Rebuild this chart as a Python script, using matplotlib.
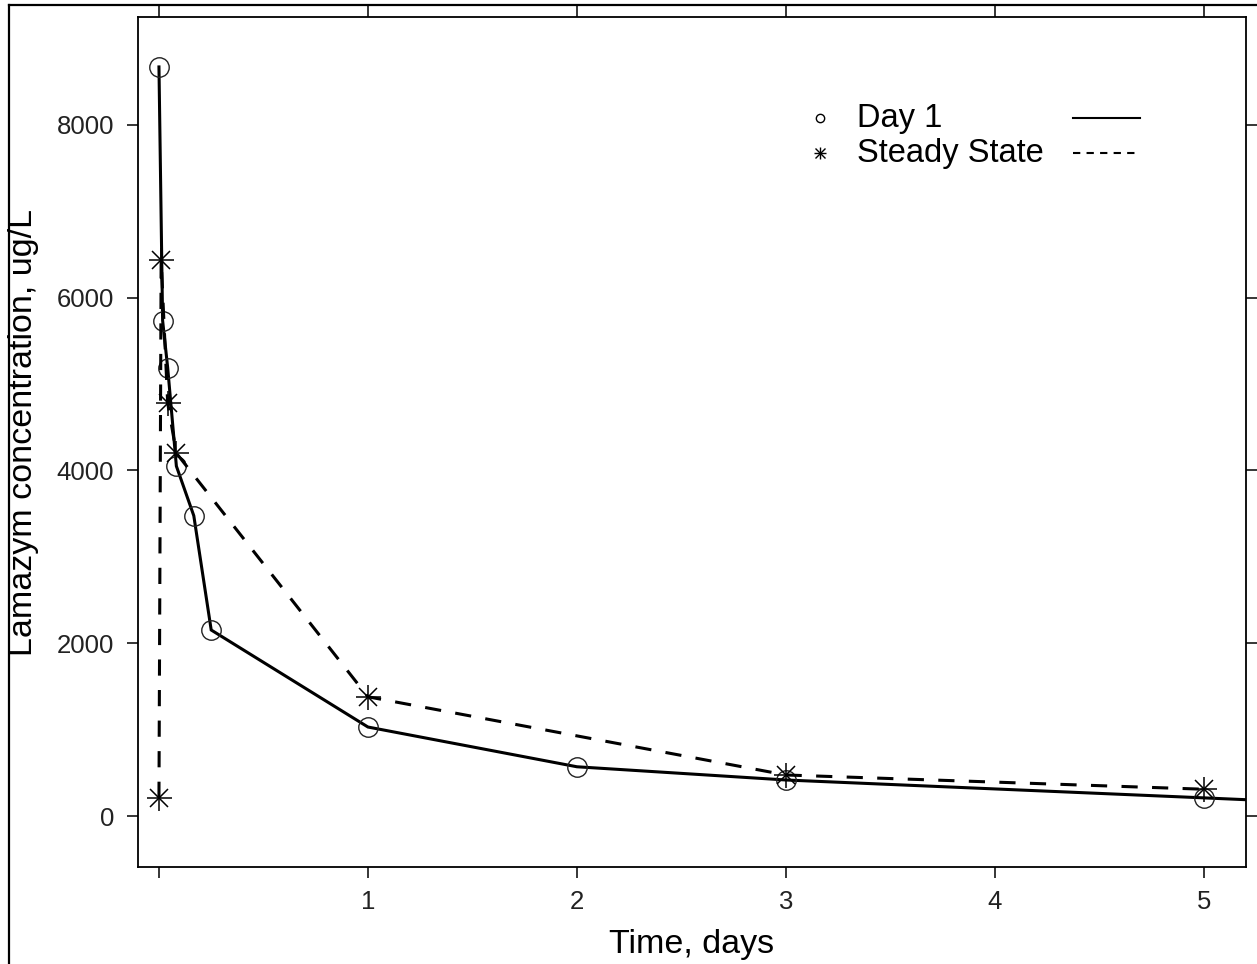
import numpy as np
import matplotlib
matplotlib.use("Agg")
import matplotlib.pyplot as plt
from matplotlib.lines import Line2D

plt.rcParams['font.family'] = ['Liberation Sans', 'DejaVu Sans']

# concentration-time data, sampling times in hours
day1_hours = [0, 0.42, 1, 2, 4, 6, 24, 48, 72, 120, 144]
day1_conc = [8670, 5735, 5190, 4050, 3476, 2153, 1030, 570, 417, 210, 105]

ss_hours = [0, 0.25, 1, 2, 24, 72, 120]
ss_conc = [210, 6435, 4780, 4200, 1380, 475, 310]

x_ticks = [0, 1, 2, 3, 4, 5]
x_ticklabels = ["", "1", "2", "3", "4", "5"]
y_ticks = [0, 2000, 4000, 6000, 8000]

day1_days = np.array(day1_hours) / 24.0
ss_days = np.array(ss_hours) / 24.0

fig = plt.figure(figsize=(12.57, 9.64), dpi=100)
ax = fig.add_axes([0.1095, 0.1009, 0.8815, 0.8811])

lw = 2.2
# Day 1 - solid line with open circles
ax.plot(day1_days, day1_conc, color='black', lw=lw, solid_joinstyle='miter')
ax.plot(day1_days[:-1], day1_conc[:-1], ls='none', marker='o', ms=14,
        mfc='none', mec='#222222', mew=1.0)

# Steady state - dashed line with asterisks (plus overlaid with cross)
ax.plot(ss_days, ss_conc, color='black', lw=lw, ls=(0, (5.3, 4.7)))
ax.plot(ss_days, ss_conc, ls='none', marker='+', ms=18, mec='black', mew=1.1)
ax.plot(ss_days, ss_conc, ls='none', marker='x', ms=12.5, mec='black', mew=1.1)

ax.set_xlim(-0.102, 5.2)
ax.set_ylim(-587, 9244)
ax.set_xticks(x_ticks)
ax.set_xticklabels(x_ticklabels)
ax.set_yticks(y_ticks)

for sp in ax.spines.values():
    sp.set_linewidth(1.3)
ax.tick_params(direction='out', length=8, width=1.1, labelsize=18.5,
               labelcolor='#222222', top=True, right=True,
               labeltop=False, labelright=False)
ax.tick_params(axis='x', pad=9)
ax.tick_params(axis='y', pad=9)

# key: symbols | text | lines
ax.plot([0.616], [0.8814], transform=ax.transAxes, marker='o', ms=6,
        mfc='none', mec='black', mew=1.0, clip_on=False)
ax.plot([0.616], [0.8402], transform=ax.transAxes, marker='+', ms=9,
        mec='black', mew=1.0, clip_on=False)
ax.plot([0.616], [0.8402], transform=ax.transAxes, marker='x', ms=6.5,
        mec='black', mew=1.0, clip_on=False)
ax.text(0.649, 0.8814, "Day 1", transform=ax.transAxes, fontsize=23.5,
        va='center', ha='left')
ax.text(0.649, 0.8402, "Steady State", transform=ax.transAxes, fontsize=23.5,
        va='center', ha='left')
ax.plot([0.844, 0.905], [0.8814, 0.8814], transform=ax.transAxes,
        color='black', lw=1.5)
ax.plot([0.844, 0.905], [0.8402, 0.8402], transform=ax.transAxes,
        color='black', lw=1.5, ls=(0, (3.5, 3)))

fig.text(692 / 1257, 1 - 944 / 964, "Time, days", fontsize=24.5,
         ha='center', va='center')
fig.text(24 / 1257, 1 - 432 / 964, "Lamazym concentration, ug/L",
         fontsize=24.5, rotation=90, ha='center', va='center')

# outer frame
fig.add_artist(Line2D([8.5 / 1257, 8.5 / 1257], [0, 1 - 4.5 / 964],
                      color='black', lw=1.6))
fig.add_artist(Line2D([8.5 / 1257, 1], [1 - 4.5 / 964, 1 - 4.5 / 964],
                      color='black', lw=1.6))

fig.savefig("out.png", dpi=100)
